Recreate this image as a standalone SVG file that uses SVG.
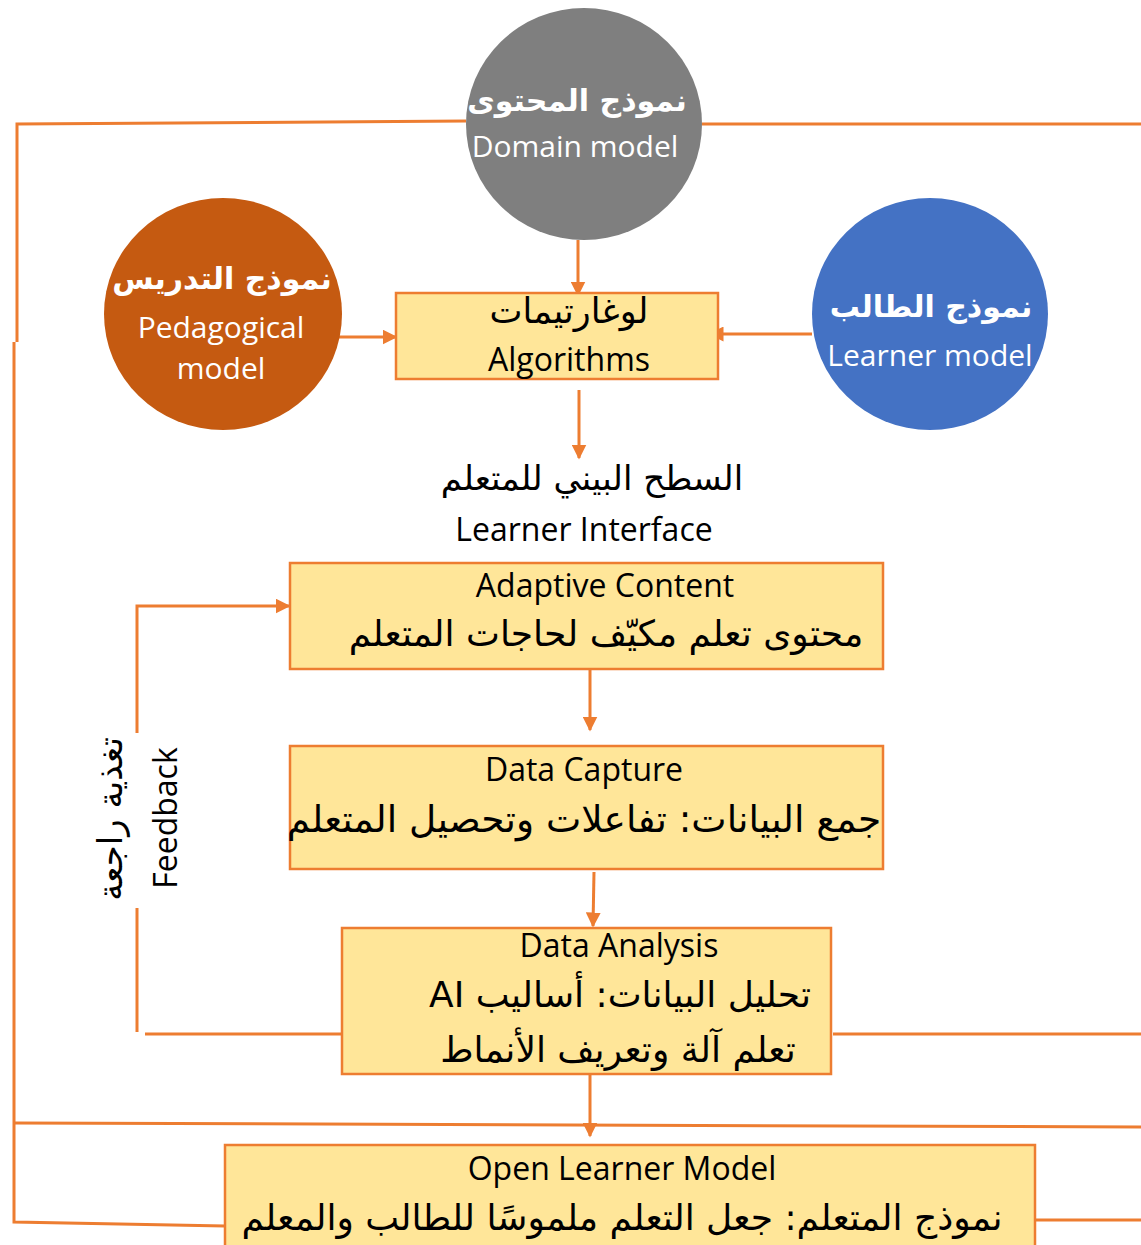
<svg xmlns="http://www.w3.org/2000/svg" width="1141" height="1245" viewBox="0 0 1141 1245">
<style>
.ln{stroke:#ed7d31;stroke-width:3;fill:none}
.box{fill:#ffe699;stroke:#ed7d31;stroke-width:2.5}
.en{font-family:"Open Sans","DejaVu Sans",sans-serif;font-size:32px;fill:#000;text-anchor:middle}
.ar{font-family:"DejaVu Sans","Noto Sans",sans-serif;font-size:36px;fill:#000;text-anchor:middle}
.wen{font-family:"Open Sans","DejaVu Sans",sans-serif;font-size:30px;fill:#fff;text-anchor:middle}
.war{font-family:"DejaVu Sans","Noto Sans",sans-serif;font-size:30px;font-weight:bold;fill:#fff;text-anchor:middle}
</style>
<defs>
<marker id="ah" viewBox="0 0 10 10" refX="9" refY="5" markerWidth="5" markerHeight="5" orient="auto" markerUnits="strokeWidth">
<path d="M0,0 L10,5 L0,10 z" fill="#ed7d31"/>
</marker>
</defs>
<rect width="1141" height="1245" fill="#fff"/>
<g id="connectors">
<polyline class="ln" points="466,121 17,124 17,342"/>
<polyline class="ln" points="14,342 14,1222 225,1226"/>
<line class="ln" x1="702" y1="124" x2="1141" y2="124"/>
<line class="ln" x1="14" y1="1123" x2="1141" y2="1127"/>
<line class="ln" x1="1035" y1="1220" x2="1141" y2="1220"/>
<line class="ln" x1="833" y1="1034" x2="1141" y2="1034"/>
<line class="ln" x1="578" y1="240" x2="578" y2="295" marker-end="url(#ah)"/>
<line class="ln" x1="335" y1="337" x2="396" y2="337" marker-end="url(#ah)"/>
<line class="ln" x1="812" y1="334" x2="710" y2="334" marker-end="url(#ah)"/>
<line class="ln" x1="579" y1="390" x2="579" y2="458" marker-end="url(#ah)"/>
<line class="ln" x1="590" y1="663" x2="590" y2="730" marker-end="url(#ah)"/>
<line class="ln" x1="594" y1="872" x2="593" y2="926" marker-end="url(#ah)"/>
<line class="ln" x1="590" y1="1070" x2="590" y2="1136" marker-end="url(#ah)"/>
<polyline class="ln" points="342,1034 145,1034"/>
<polyline class="ln" points="137,1032 137,908"/>
<polyline class="ln" points="137,733 137,606 289,606" marker-end="url(#ah)"/>
</g>
<g id="domain">
<ellipse cx="584" cy="124" rx="118" ry="116" fill="#7f7f7f"/>
<text class="war" x="577" y="111">نموذج المحتوى</text>
<text class="wen" x="575" y="157">Domain model</text>
</g>
<g id="pedagogical">
<ellipse cx="223" cy="314" rx="119" ry="116" fill="#c55a11"/>
<text class="war" x="222" y="289">نموذج التدريس</text>
<text class="wen" x="221" y="338">Pedagogical</text>
<text class="wen" x="221" y="379">model</text>
</g>
<g id="learner">
<ellipse cx="930" cy="314" rx="118" ry="116" fill="#4472c4"/>
<text class="war" x="931" y="317">نموذج الطالب</text>
<text class="wen" x="930" y="366">Learner model</text>
</g>
<g id="algorithms">
<rect class="box" x="396" y="293" width="322" height="86"/>
<text class="ar" x="569" y="323" style="font-size:35px">لوغارتيمات</text>
<text class="en" x="569" y="371">Algorithms</text>
</g>
<g id="interface">
<text class="ar" x="592" y="490" style="font-size:34px">السطح البيني للمتعلم</text>
<text class="en" x="584" y="541">Learner Interface</text>
</g>
<g id="adaptive">
<rect class="box" x="290" y="563" width="593" height="106"/>
<text class="en" x="605" y="597">Adaptive Content</text>
<text class="ar" x="606" y="646" direction="rtl">محتوى تعلم مكيّف لحاجات المتعلم</text>
</g>
<g id="capture">
<rect class="box" x="290" y="746" width="593" height="123"/>
<text class="en" x="584" y="781">Data Capture</text>
<text class="ar" x="584" y="832" direction="rtl" style="font-size:37.5px">جمع البيانات: تفاعلات وتحصيل المتعلم</text>
</g>
<g id="analysis">
<rect class="box" x="342" y="928" width="489" height="146"/>
<text class="en" x="619" y="957">Data Analysis</text>
<text class="ar" x="620" y="1007" direction="rtl">تحليل البيانات: أساليب AI</text>
<text class="ar" x="618" y="1062" direction="rtl">تعلم آلة وتعريف الأنماط</text>
</g>
<g id="olm">
<rect class="box" x="225" y="1145" width="810" height="110"/>
<text class="en" x="622" y="1180">Open Learner Model</text>
<text class="ar" x="622" y="1230" direction="rtl">نموذج المتعلم: جعل التعلم ملموسًا للطالب والمعلم</text>
</g>
<g id="feedback">
<text class="ar" transform="translate(122,819) rotate(-90)" style="font-size:34px">تغذية راجعة</text>
<text class="en" transform="translate(177,818) rotate(-90)">Feedback</text>
</g>
</svg>
